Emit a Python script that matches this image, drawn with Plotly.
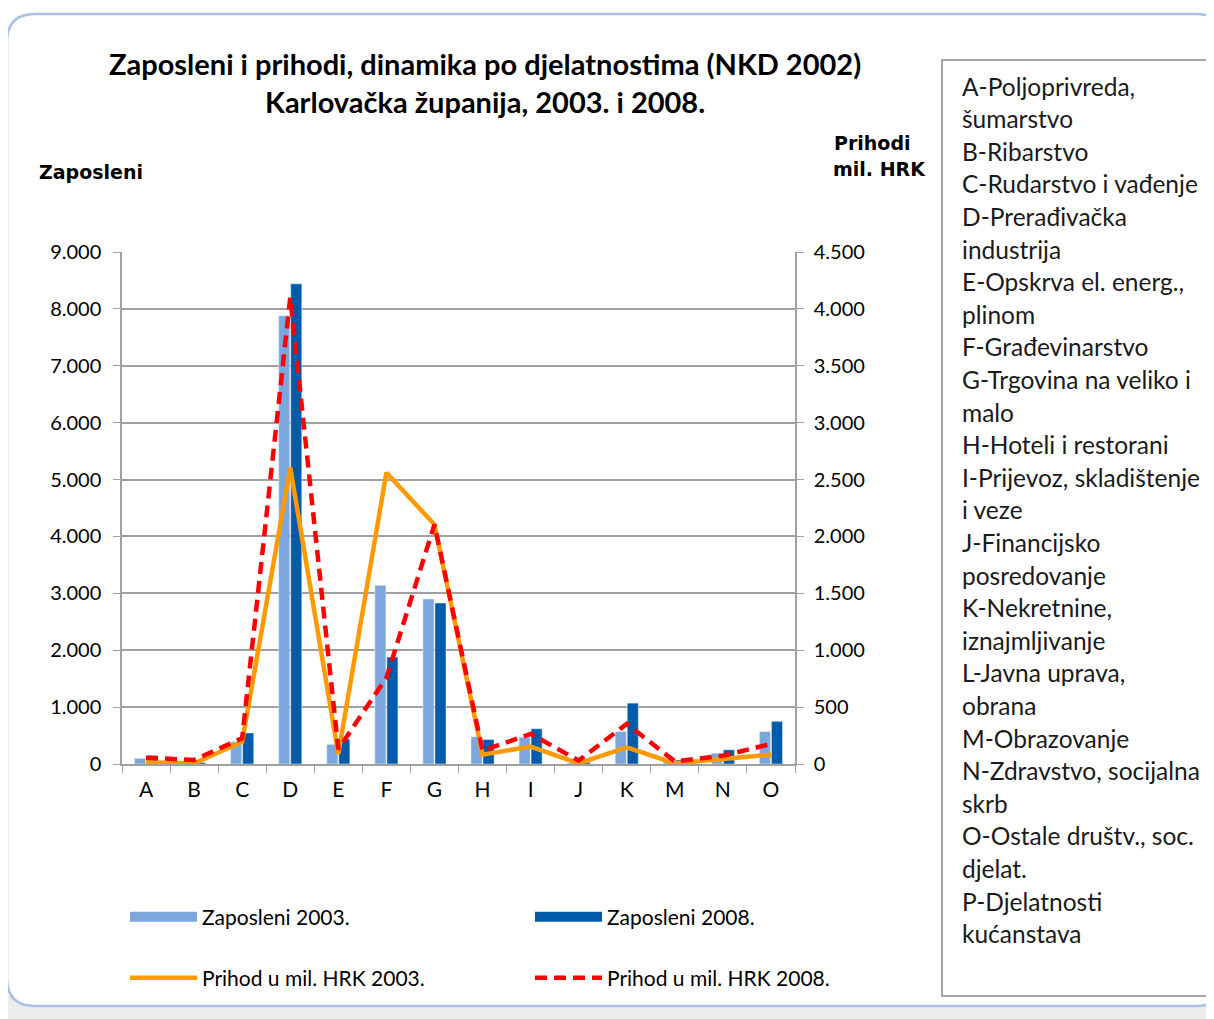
import plotly.graph_objects as go

W, H = 1214, 1019

categories = ['A', 'B', 'C', 'D', 'E', 'F', 'G', 'H', 'I', 'J', 'K', 'M', 'N', 'O']
zaposleni_2003 = [100, 10, 390, 7880, 345, 3140, 2900, 480, 470, 20, 570, 60, 190, 570]
zaposleni_2008 = [150, 25, 545, 8440, 436, 1880, 2830, 430, 620, 30, 1070, 70, 250, 750]
prihod_2003 = [15, 5, 195, 2605, 90, 2560, 2105, 82, 153, 5, 147, 5, 44, 82]
prihod_2008 = [55, 36, 227, 4100, 130, 757, 2105, 117, 265, 30, 353, 23, 73, 176]

left_ticks = [0, 1000, 2000, 3000, 4000, 5000, 6000, 7000, 8000, 9000]
right_ticks = [0, 500, 1000, 1500, 2000, 2500, 3000, 3500, 4000, 4500]

box_lines = [
    "A-Poljoprivreda,", "šumarstvo", "B-Ribarstvo", "C-Rudarstvo i vađenje",
    "D-Prerađivačka", "industrija", "E-Opskrva el. energ.,", "plinom",
    "F-Građevinarstvo", "G-Trgovina na veliko i", "malo", "H-Hoteli i restorani",
    "I-Prijevoz, skladištenje", "i veze", "J-Financijsko", "posredovanje",
    "K-Nekretnine,", "iznajmljivanje", "L-Javna uprava,", "obrana",
    "M-Obrazovanje", "N-Zdravstvo, socijalna", "skrb", "O-Ostale društv., soc.",
    "djelat.", "P-Djelatnosti", "kućanstava",
]

FONT = "Lato"
OFF = 8  # page body margin
C03, C08 = "#7ba7dd", "#005ca8"


def px(x):
    return (x - OFF) / W


def py(y):
    return 1 - (y - OFF) / H


fig = go.Figure()

fig.add_trace(go.Bar(x=categories, y=zaposleni_2003, name="Zaposleni 2003.",
                     marker_color=C03, showlegend=False))
fig.add_trace(go.Bar(x=categories, y=zaposleni_2008, name="Zaposleni 2008.",
                     marker_color=C08, showlegend=False))
# wide legend keys for the bars
fig.add_trace(go.Scatter(x=[None], y=[None], mode="lines", name="Zaposleni 2003.",
                         legend="legend", line=dict(color=C03, width=12)))
fig.add_trace(go.Scatter(x=[None], y=[None], mode="lines", name="Zaposleni 2008.",
                         legend="legend", line=dict(color=C08, width=12)))
fig.add_trace(go.Scatter(x=categories, y=prihod_2003, name="Prihod u mil. HRK 2003.",
                         mode="lines", yaxis="y2", legend="legend2",
                         line=dict(color="#ff9900", width=4.5)))
fig.add_trace(go.Scatter(x=categories, y=prihod_2008, name="Prihod u mil. HRK 2008.",
                         mode="lines", yaxis="y2", legend="legend2",
                         line=dict(color="#ff0000", width=4.5, dash="12px,7px")))

# frame
r = 28
x0, y0, x1, y1 = 7, 14, 1224, 1006
path = (f"M {px(x0)},{py(y0 + r)} Q {px(x0)},{py(y0)} {px(x0 + r)},{py(y0)} "
        f"L {px(x1 - r)},{py(y0)} Q {px(x1)},{py(y0)} {px(x1)},{py(y0 + r)} "
        f"L {px(x1)},{py(y1 - r)} Q {px(x1)},{py(y1)} {px(x1 - r)},{py(y1)} "
        f"L {px(x0 + r)},{py(y1)} Q {px(x0)},{py(y1)} {px(x0)},{py(y1 - r)} Z")
shapes = [
    dict(type="rect", xref="paper", yref="paper", x0=0, x1=1, y0=0, y1=py(996),
         fillcolor="#ececec", line_width=0, layer="below"),
    dict(type="path", xref="paper", yref="paper", path=path,
         fillcolor="white", line=dict(color="#a9c1e6", width=2.5), layer="below"),
    dict(type="rect", xref="paper", yref="paper", x0=px(942), x1=px(1240),
         y0=py(996), y1=py(60), fillcolor="white",
         line=dict(color="#a6a6a6", width=2), layer="below"),
]

annotations = [
    dict(text="<b>Zaposleni i prihodi, dinamika po djelatnostima (NKD 2002)<br>"
              "Karlovačka županija, 2003. i 2008.</b>",
         x=px(485), y=py(82), xref="paper", yref="paper", showarrow=False,
         xanchor="center", yanchor="middle", align="center",
         font=dict(family=FONT, size=29, color="black")),
    dict(text="<b>Zaposleni</b>", x=px(37), y=py(172), xref="paper", yref="paper",
         xanchor="left", yanchor="middle", showarrow=False,
         font=dict(family="DejaVu Sans", size=19, color="black")),
    dict(text="<b>Prihodi</b>", x=px(832), y=py(143), xref="paper", yref="paper",
         xanchor="left", yanchor="middle", showarrow=False,
         font=dict(family="DejaVu Sans", size=19, color="black")),
    dict(text="<b>mil. HRK</b>", x=px(831), y=py(169), xref="paper", yref="paper",
         xanchor="left", yanchor="middle", showarrow=False,
         font=dict(family="DejaVu Sans", size=19, color="black")),
]
for i, t in enumerate(box_lines):
    annotations.append(dict(text=t, x=px(960), y=py(86 + i * 32.6), xref="paper", yref="paper",
                            xanchor="left", yanchor="middle", showarrow=False,
                            font=dict(family=FONT, size=24.5, color="#1a1a1a")))

legend_common = dict(orientation="h", xanchor="left", yanchor="middle",
                     entrywidth=323, entrywidthmode="pixels", itemwidth=67,
                     bgcolor="rgba(0,0,0,0)", font=dict(family=FONT, size=21),
                     traceorder="normal")

fig.update_layout(
    width=W, height=H,
    margin=dict(l=0, r=0, t=0, b=0, autoexpand=False),
    paper_bgcolor="white", plot_bgcolor="white",
    separators=",.",
    barmode="group", bargap=0.5, bargroupgap=0.08,
    font=dict(family=FONT, size=19, color="black"),
    shapes=shapes, annotations=annotations,
    xaxis=dict(domain=[px(122), px(795)], showline=True, linecolor="#a0a0a0", linewidth=1.5,
               ticks="outside", tickson="boundaries", ticklen=7, tickcolor="#a0a0a0",
               ticklabelstandoff=6, showgrid=False, automargin=False,
               tickfont=dict(family=FONT, size=21)),
    yaxis=dict(domain=[py(764), py(252)], range=[0, 9000], tickvals=left_ticks,
               tickformat=",d", showgrid=True, gridcolor="#a0a0a0", gridwidth=1.5,
               showline=True, linecolor="#a0a0a0", linewidth=1.5, zeroline=False,
               ticks="outside", ticklen=7, tickcolor="#a0a0a0", ticklabelstandoff=8,
               automargin=False, tickfont=dict(family=FONT, size=20)),
    yaxis2=dict(overlaying="y", side="right", anchor="x", range=[0, 4500],
                tickvals=right_ticks, tickformat=",d", showgrid=False, zeroline=False,
                showline=True, linecolor="#a0a0a0", linewidth=1.5,
                ticks="outside", ticklen=7, tickcolor="#a0a0a0", ticklabelstandoff=6,
                automargin=False, tickfont=dict(family=FONT, size=20)),
    legend=dict(x=px(125), y=py(917), **legend_common),
    legend2=dict(x=px(125), y=py(978), **legend_common),
)

fig.write_html("out.html")
